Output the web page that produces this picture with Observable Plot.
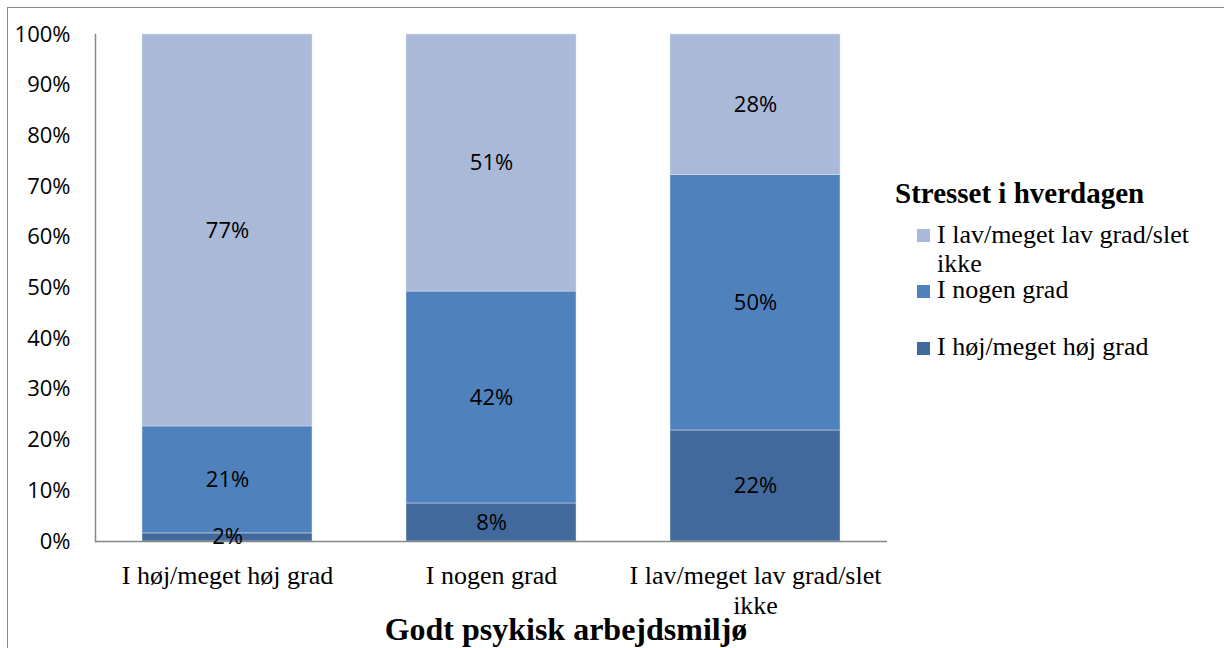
<!DOCTYPE html>
<html>
<head>
<meta charset="utf-8">
<script src="https://cdn.jsdelivr.net/npm/d3@7"></script>
<script src="https://cdn.jsdelivr.net/npm/@observablehq/plot@0.6"></script>
<style>
  body { margin: 0; background: #fff; }
  #wrap { position: relative; width: 1224px; height: 648px; overflow: hidden; background: #fff; }
  #border { position: absolute; left: 7px; top: 7px; width: 1300px; height: 700px; border-top: 1.5px solid #888; border-left: 1.5px solid #888; }
  #chart { position: absolute; left: 0; top: 0; }
  .lg { position: absolute; font-family: "Liberation Serif", "Times New Roman", serif; color: #000; white-space: nowrap; }
  .lgtitle { font-weight: bold; font-size: 29px; line-height: 1; left: 895px; top: 179px; }
  .lgitem { font-size: 26px; line-height: 29px; left: 937px; }
  .sw { position: absolute; left: 917px; width: 13px; height: 13px; }
  #xtitle { position: absolute; font-family: "Liberation Serif", serif; font-weight: bold; font-size: 32px; line-height: 1; left: 0; width: 1132px; text-align: center; top: 613px; }
</style>
</head>
<body>
<div id="wrap">
  <div id="border"></div>
  <div id="chart"></div>
  <div id="legend"></div>
  <div id="xtitle"></div>
</div>
<script>
// Categories (x axis: Godt psykisk arbejdsmiljø)
const groups = ["I høj/meget høj grad", "I nogen grad", "I lav/meget lav grad/slet ikke"];
// Series (Stresset i hverdagen), bottom to top
const seriesNames = ["I høj/meget høj grad", "I nogen grad", "I lav/meget lav grad/slet ikke"];
const seriesColors = ["#41699b", "#4f81bd", "#aab9d7"];
// Values in percent, per group
const hojValues = [1.6, 7.5, 21.9];
const nogenValues = [21.1, 41.8, 50.4];
const lavValues = [77.3, 50.7, 27.7];
const yTicks = [0, 10, 20, 30, 40, 50, 60, 70, 80, 90, 100];
const xTitle = "Godt psykisk arbejdsmiljø";
const legendTitle = "Stresset i hverdagen";

const seriesValues = [hojValues, nogenValues, lavValues];
const data = [];
groups.forEach((g, gi) => {
  seriesNames.forEach((s, si) => {
    data.push({group: g, series: s, value: seriesValues[si][gi]});
  });
});

const chart = Plot.plot({
  width: 1224,
  height: 648,
  marginLeft: 95,
  marginRight: 337,
  marginTop: 34,
  marginBottom: 107,
  style: {background: "transparent", color: "#000"},
  x: {domain: groups, paddingInner: 0.356, paddingOuter: 0.178, label: null},
  y: {domain: [0, 100], label: null},
  color: {domain: seriesNames, range: seriesColors},
  marks: [
    Plot.barY(data, {x: "group", y: "value", z: "series", fill: "series", stroke: "#dfe6f1", strokeWidth: 0.8, strokeOpacity: 0.6}),
    Plot.frame({anchor: "left", stroke: "#868686", strokeWidth: 1.5}),
    Plot.ruleY([0], {stroke: "#868686", strokeWidth: 1.5}),
    Plot.text(data, Plot.stackY({x: "group", y: "value", z: "series", text: d => Math.round(d.value) + "%", fontSize: 22, fontFamily: "Open Sans", fill: "#000"})),
    Plot.axisY({ticks: yTicks, tickSize: 0, tickPadding: 25, tickFormat: d => d + "%", fontSize: 22, fontFamily: "Open Sans", fill: "#000", label: null}),
    Plot.axisX({tickSize: 0, tickPadding: 21.5, fontSize: 26, fontFamily: "Liberation Serif", lineHeight: 1.15, fill: "#000", label: null,
      tickFormat: d => d === groups[2] ? "I lav/meget lav grad/slet\nikke" : d})
  ]
});
document.getElementById("chart").appendChild(chart);

document.getElementById("xtitle").textContent = xTitle;

// Legend (top to bottom: lav, nogen, høj)
const legend = document.getElementById("legend");
const t = document.createElement("div");
t.className = "lg lgtitle";
t.textContent = legendTitle;
legend.appendChild(t);
const legendItems = [
  {si: 2, html: "I lav/meget lav grad/slet<br>ikke", top: 220, sw: 229},
  {si: 1, html: "I nogen grad", top: 275, sw: 285},
  {si: 0, html: "I høj/meget høj grad", top: 332, sw: 342}
];
legendItems.forEach(it => {
  const sw = document.createElement("div");
  sw.className = "sw";
  sw.style.top = it.sw + "px";
  sw.style.background = seriesColors[it.si];
  legend.appendChild(sw);
  const tx = document.createElement("div");
  tx.className = "lg lgitem";
  tx.style.top = it.top + "px";
  tx.innerHTML = it.html;
  legend.appendChild(tx);
});
</script>
</body>
</html>
